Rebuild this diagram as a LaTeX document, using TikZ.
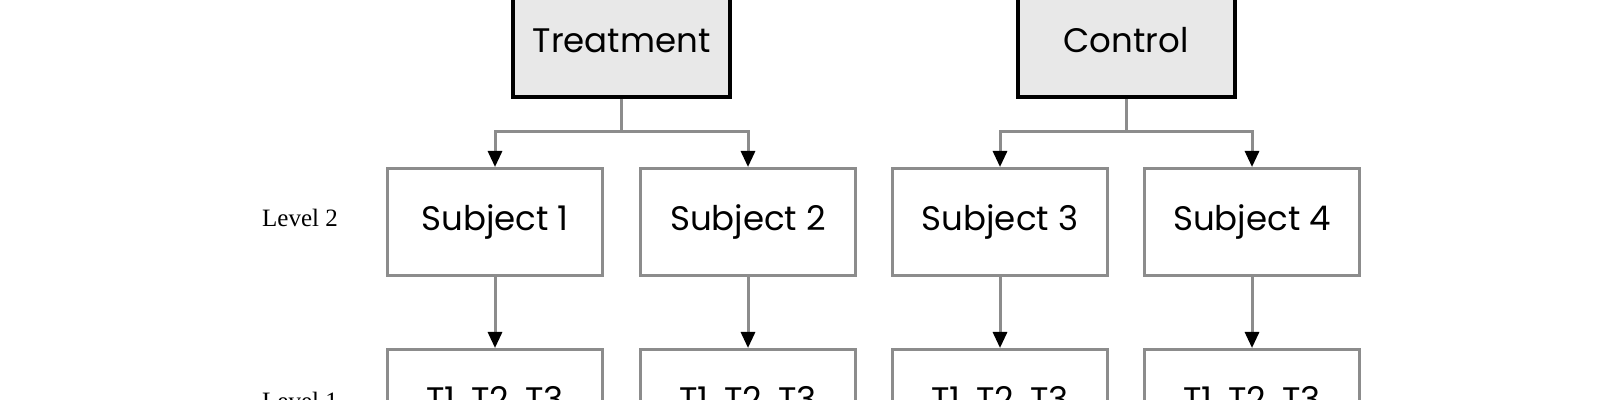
\documentclass[tikz,border=0pt]{standalone}
\usepackage{fontspec}
\setmainfont{Poppins}
\newfontfamily\lvlfont{Liberation Serif}
\usetikzlibrary{arrows.meta}
\definecolor{linegray}{HTML}{8C8C8C}
\definecolor{boxfill}{HTML}{E8E8E8}
\begin{document}
\begin{tikzpicture}[x=0.5pt,y=-0.5pt,
  boxtext/.style={font=\fontsize{17}{20}\selectfont, text height=0.85em, text depth=0pt, inner sep=0pt},
  topbox/.style={boxtext, draw=black, line width=2pt, fill=boxfill, minimum width=108.5pt, minimum height=53pt},
  subbox/.style={boxtext, draw=linegray, line width=1.5pt, fill=white, minimum width=107.5pt, minimum height=53.5pt},
  link/.style={draw=linegray, line width=1.5pt},
  conn/.style={link, -{Triangle[width=7pt,length=8pt,color=black]}},
  lvl/.style={font=\lvlfont\fontsize{12.5}{14}\selectfont, text height=0.66em, text depth=0pt, inner sep=0pt},
]
\useasboundingbox (0,0) rectangle (1600,400);
\node[topbox] (treat) at (621.5,44) {Treatment};
\node[topbox] (ctrl) at (1126,44) {Control};
\node[subbox] (s1) at (495,222) {Subject 1};
\node[subbox] (s2) at (748,222) {Subject 2};
\node[subbox] (s3) at (1000,222) {Subject 3};
\node[subbox] (s4) at (1252,222) {Subject 4};
\node[subbox] (t1) at (495,403) {T1, T2, T3};
\node[subbox] (t2) at (748,403) {T1, T2, T3};
\node[subbox] (t3) at (1000,403) {T1, T2, T3};
\node[subbox] (t4) at (1252,403) {T1, T2, T3};
\node[lvl] (l2) at (300,220) {Level 2};
\node[lvl] (l1) at (300,403) {Level 1};
\coordinate (tj) at (621.5,132);
\coordinate (cj) at (1126,132);
\draw[link] (treat.south) -- (tj);
\draw[conn] (tj) -| (s1.north);
\draw[conn] (tj) -| (s2.north);
\draw[link] (ctrl.south) -- (cj);
\draw[conn] (cj) -| (s3.north);
\draw[conn] (cj) -| (s4.north);
\draw[conn] (s1) -- (t1);
\draw[conn] (s2) -- (t2);
\draw[conn] (s3) -- (t3);
\draw[conn] (s4) -- (t4);
\end{tikzpicture}
\end{document}
